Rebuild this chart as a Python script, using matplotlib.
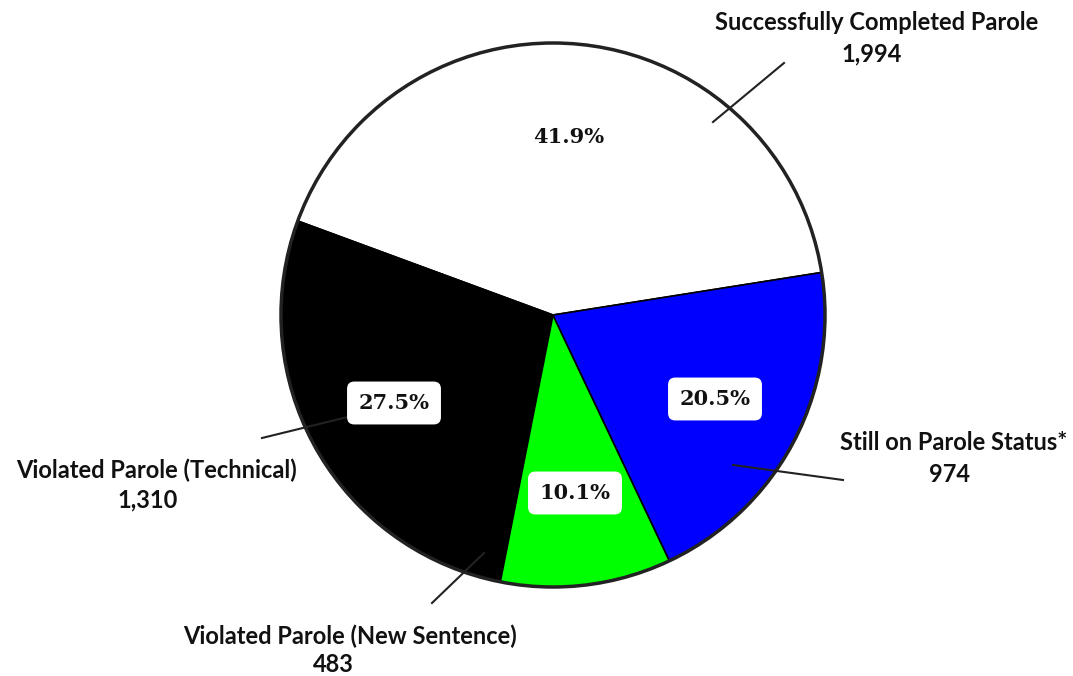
import matplotlib.pyplot as plt

# data
labels = ["Successfully Completed Parole", "Violated Parole (Technical)",
          "Violated Parole (New Sentence)", "Still on Parole Status*"]
counts = [1994, 1310, 483, 974]
pct_text = ["41.9%", "27.5%", "10.1%", "20.5%"]
colors = ["#ffffff", "#000000", "#00ff00", "#0000ff"]

W, H = 1073, 676
fig = plt.figure(figsize=(W / 100, H / 100), dpi=100)
ax = fig.add_axes([0, 0, 1, 1])

cx, cy, r = 553, H - 315, 272
wedges, _ = ax.pie(counts, colors=colors, startangle=9, counterclock=True,
                   center=(cx, cy), radius=r,
                   wedgeprops=dict(edgecolor="black", linewidth=1.2))
ax.set_xlim(0, W)
ax.set_ylim(0, H)
ax.set_aspect("equal")
ax.axis("off")
# heavier outer ring
ring = plt.Circle((cx, cy), r, fill=False, edgecolor="#222222", linewidth=2.5)
ax.add_patch(ring)

lab_font = dict(family="Lato", fontweight="bold", fontsize=17, color="#111111")
pct_font = dict(family="DejaVu Serif", fontweight="bold", fontsize=15, color="#111111")

def Y(y):
    return H - y

# leader lines (image coords)
leaders = [((713, 122), (784, 63)),
           ((262, 438), (360, 414)),
           ((432, 603), (484, 553)),
           ((733, 465), (843, 480))]
for (x0, y0), (x1, y1) in leaders:
    ax.plot([x0, x1], [Y(y0), Y(y1)], color="#222222", lw=1.5, zorder=5)

# category labels
ax.text(877, Y(22), labels[0], ha="center", va="center", **lab_font)
ax.text(872, Y(54), f"{counts[0]:,}", ha="center", va="center", **lab_font)
ax.text(156, Y(470), labels[1], ha="center", va="center", **lab_font)
ax.text(148, Y(500), f"{counts[1]:,}", ha="center", va="center", **lab_font)
ax.text(350, Y(636), labels[2], ha="center", va="center", **lab_font)
ax.text(333, Y(665), f"{counts[2]:,}", ha="center", va="center", **lab_font)
ax.text(954, Y(442), labels[3], ha="center", va="center", **lab_font)
ax.text(949, Y(475), f"{counts[3]:,}", ha="center", va="center", **lab_font)

# percentage labels
box = dict(boxstyle="round,pad=0.55,rounding_size=0.35", fc="white", ec="none")
ax.text(569, Y(137), pct_text[0], ha="center", va="center", **pct_font)
ax.text(394, Y(403), pct_text[1], ha="center", va="center", bbox=box, zorder=6, **pct_font)
ax.text(575, Y(493), pct_text[2], ha="center", va="center", bbox=box, zorder=6, **pct_font)
ax.text(715, Y(399), pct_text[3], ha="center", va="center", bbox=box, zorder=6, **pct_font)

fig.savefig("out.png", dpi=100)
